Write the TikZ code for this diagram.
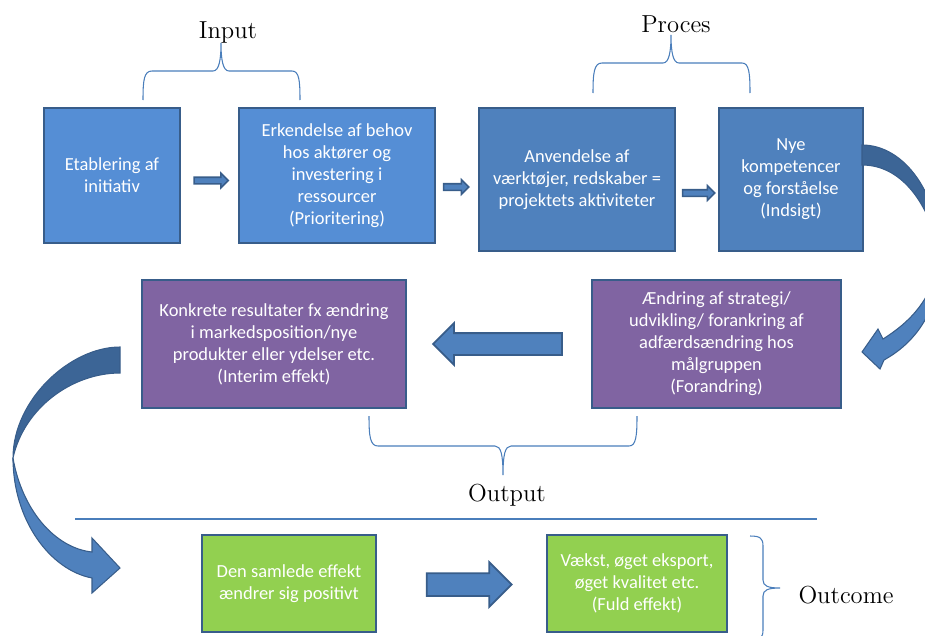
\documentclass[tikz,border=0pt]{standalone}
\usepackage{fontspec}
\newfontfamily\calibri{Carlito}
\usepackage{tikz}
\usetikzlibrary{calc}
\usetikzlibrary{shapes.arrows}
\definecolor{inblue}{HTML}{558ED5}
\definecolor{procblue}{HTML}{4F81BD}
\definecolor{edgeblue}{HTML}{385D8A}
\definecolor{outpurple}{HTML}{8064A2}
\definecolor{effgreen}{HTML}{92D050}
\definecolor{bracecol}{HTML}{4A7EBB}
\definecolor{darkband}{HTML}{3C6596}

\begin{document}
\begin{tikzpicture}[x=0.02cm, y=-0.02cm,
    bx/.style={draw=edgeblue, line width=1.1pt, align=center, text=white, inner sep=0,
      font=\calibri\fontsize{10.5}{12.5}\selectfont},
    inp/.style={bx, fill=inblue},
    prc/.style={bx, fill=procblue},
    outp/.style={bx, fill=outpurple},
    eff/.style={bx, fill=effgreen},
    lbl/.style={font=\fontsize{14}{17}\selectfont},
    brc/.style={draw=bracecol, line width=0.6pt},
    sarrow/.style={single arrow, draw=edgeblue, fill=procblue, line width=0.9pt, inner xsep=0,
      inner ysep=0.05cm, minimum height=#1, single arrow head extend=0.08cm},
    barrow/.style={single arrow, draw=edgeblue, fill=procblue, line width=1pt, inner xsep=0,
      inner ysep=0.2cm, minimum height=#1, single arrow head extend=0.2cm}
  ]
  \useasboundingbox (0,0) rectangle (925,635);

  \node[inp, minimum width=2.72cm, minimum height=2.7cm] (init) at (112,175.5) {Etablering af\\initiativ};
  \node[inp, minimum width=3.92cm, minimum height=2.7cm] (prio) at (337,175.5) {Erkendelse af behov\\hos aktører og\\investering i\\ressourcer\\(Prioritering)};
  \node[prc, minimum width=3.92cm, minimum height=2.86cm] (aktiv) at (577,179.5) {Anvendelse af\\værktøjer, redskaber =\\projektets aktiviteter};
  \node[prc, minimum width=2.88cm, minimum height=2.86cm] (indsigt) at (791,179.5) {Nye\\kompetencer\\og forståelse\\(Indsigt)};
  \node[outp, minimum width=4.98cm, minimum height=2.56cm] (forandr) at (716.5,344) {Ændring af strategi/\\udvikling/ forankring af\\adfærdsændring hos\\målgruppen\\(Forandring)};
  \node[outp, minimum width=5.28cm, minimum height=2.56cm] (interim) at (274,344) {Konkrete resultater fx ændring\\i markedsposition/nye\\produkter eller ydelser etc.\\(Interim effekt)};
  \node[eff, minimum width=3.48cm, minimum height=1.94cm] (samlet) at (289,583.5) {Den samlede effekt\\ændrer sig positivt};
  \node[eff, minimum width=3.6cm, minimum height=1.94cm] (fuld) at (637,583.5) {Vækst, øget eksport,\\øget kvalitet etc.\\(Fuld effekt)};

  \node[sarrow=0.68cm] (a1) at ($(init.east)!0.5!(prio.west)+(0,5)$) {};
  \node[sarrow=0.5cm] (a2) at ($(prio.east)!0.5!(aktiv.west)+(-2.5,9.5)$) {};
  \node[sarrow=0.64cm] (a3) at ($(aktiv.east)!0.5!(indsigt.west)+(0,13.5)$) {};
  \node[barrow=2.58cm, shape border rotate=180] (a4) at ($(forandr.west)!0.5!(interim.east)+(4,0)$) {};
  \node[barrow=1.7cm, inner ysep=0.21cm, single arrow head extend=0.22cm] (a5) at ($(samlet.east)!0.5!(fuld.west)+(2,1)$) {};

  \draw[fill=darkband, draw=edgeblue, line width=0.6pt] (862,145) .. controls (905,145) and (940,195) .. (940,258) .. controls (932,210) and (905,165) .. (862,165) -- cycle;
  \draw[fill=procblue, draw=edgeblue, line width=0.6pt] (940,258) .. controls (940,305) and (920,340) .. (884,360) -- (880,369) -- (862,352) -- (878,329) -- (883,339) .. controls (910,322) and (932,300) .. (940,258) -- cycle;
  \draw[fill=darkband, draw=edgeblue, line width=0.6pt] (120,347) .. controls (70,347) and (13,400) .. (13,458) .. controls (24,408) and (72,373) .. (120,373) -- cycle;
  \draw[fill=procblue, draw=edgeblue, line width=0.6pt] (13,458) .. controls (13,520) and (50,570) .. (92,578) -- (92,593) -- (120,568) -- (92,538) -- (92,552) .. controls (55,548) and (22,510) .. (13,458) -- cycle;

  \draw[brc] (143,100) .. controls (143,80) and (144,71) .. (152,71) -- (213,71) .. controls (219,71) and (221,60) .. (221,43) .. controls (221,60) and (223,71) .. (229,71) -- (292,71) .. controls (299,71) and (300,80) .. (300,100);
  \draw[brc] (593,93) .. controls (593,73) and (594,63) .. (602,63) -- (663,63) .. controls (669,63) and (671,52) .. (671,35) .. controls (671,52) and (673,63) .. (679,63) -- (742,63) .. controls (749,63) and (750,73) .. (750,93);
  \draw[brc] (369,416) .. controls (369,436) and (370,446) .. (378,446) -- (495,446) .. controls (501,446) and (503,455) .. (503,475) .. controls (503,455) and (505,446) .. (511,446) -- (629,446) .. controls (636,446) and (637,436) .. (637,416);
  \draw[brc] (750,536) .. controls (760,536) and (763,538) .. (763,546) -- (763,580) .. controls (763,586) and (768,588) .. (780,588) .. controls (768,588) and (763,590) .. (763,596) -- (763,630) .. controls (763,638) and (760,640) .. (750,640);
  \draw[draw=bracecol, line width=0.7pt] (75,519) -- (817,519);

  \node[lbl] (input) at (228,32) {Input};
  \node[lbl] (proces) at (676,24) {Proces};
  \node[lbl] (output) at (507,495) {Output};
  \node[lbl] (outcome) at (846,595) {Outcome};
\end{tikzpicture}
\end{document}
